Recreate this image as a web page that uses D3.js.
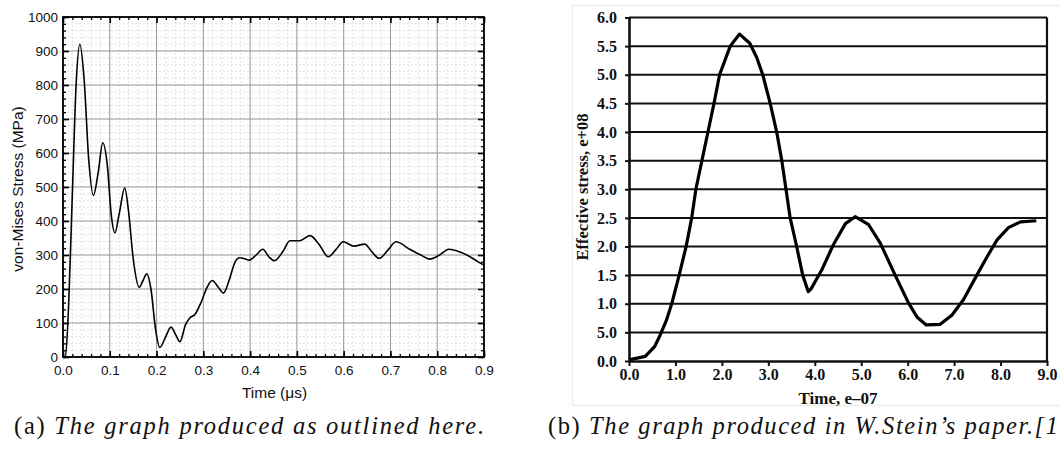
<!DOCTYPE html>
<html>
<head>
<meta charset="utf-8">
<script src="https://cdn.jsdelivr.net/npm/d3@7/dist/d3.min.js"></script>
<style>
  body { margin: 0; background: #fff; }
  svg { display: block; }
  .lt text { font-family: "Liberation Sans", Arial, sans-serif; font-size: 13.5px; fill: #111; }
  .rt text { font-family: "Liberation Serif", "Times New Roman", serif; font-weight: bold; font-size: 16px; fill: #111; }
</style>
</head>
<body>
<div id="vis"></div>
<script>
// (a) von-Mises stress vs time (us)
const stressTime = [0, 0.005, 0.012, 0.02, 0.028, 0.036, 0.045, 0.055, 0.065, 0.075, 0.085, 0.095, 0.103, 0.111, 0.12, 0.132, 0.14, 0.15, 0.163, 0.171, 0.179, 0.188, 0.198, 0.207, 0.218, 0.231, 0.241, 0.25, 0.262, 0.271, 0.282, 0.295, 0.308, 0.319, 0.332, 0.343, 0.355, 0.368, 0.378, 0.39, 0.398, 0.413, 0.427, 0.44, 0.452, 0.47, 0.485, 0.506, 0.528, 0.548, 0.567, 0.583, 0.599, 0.622, 0.645, 0.66, 0.676, 0.695, 0.712, 0.741, 0.765, 0.784, 0.805, 0.825, 0.85, 0.87, 0.885, 0.9];
const stressMPa = [0, 2, 150, 480, 800, 920, 820, 580, 475, 540, 630, 560, 420, 365, 420, 497, 430, 290, 205, 225, 245, 200, 80, 28, 55, 88, 65, 45, 95, 115, 125, 160, 205, 225, 205, 188, 225, 280, 292, 288, 285, 300, 317, 295, 283, 310, 342, 342, 357, 330, 295, 315, 339, 326, 332, 310, 290, 315, 339, 317, 300, 288, 300, 317, 308, 295, 282, 270];
const leftXTicks = [0, 0.1, 0.2, 0.3, 0.4, 0.5, 0.6, 0.7, 0.8, 0.9];
const leftYTicks = [0, 100, 200, 300, 400, 500, 600, 700, 800, 900, 1000];

// (b) effective stress (e+08) vs time (e-07), from W.Stein's paper
const steinTime = [0, 0.35, 0.55, 0.67, 0.8, 0.92, 1.08, 1.23, 1.35, 1.44, 1.57, 1.7, 1.83, 1.95, 2.18, 2.38, 2.6, 2.75, 2.88, 3.04, 3.18, 3.29, 3.38, 3.47, 3.61, 3.74, 3.86, 3.92, 4.15, 4.4, 4.66, 4.87, 5.16, 5.41, 5.73, 6.02, 6.2, 6.4, 6.7, 6.95, 7.2, 7.49, 7.71, 7.92, 8.17, 8.43, 8.77];
const steinStress = [0.02, 0.08, 0.25, 0.45, 0.7, 1.0, 1.5, 2.0, 2.5, 3.0, 3.5, 4.0, 4.5, 5.0, 5.5, 5.71, 5.55, 5.3, 5.0, 4.5, 4.0, 3.5, 3.0, 2.5, 2.0, 1.5, 1.21, 1.26, 1.59, 2.03, 2.4, 2.52, 2.38, 2.06, 1.5, 1.01, 0.77, 0.63, 0.64, 0.8, 1.07, 1.5, 1.82, 2.11, 2.33, 2.43, 2.45];
const rightXTicks = [0, 1, 2, 3, 4, 5, 6, 7, 8, 9];
const rightYTicks = [0, 0.5, 1, 1.5, 2, 2.5, 3, 3.5, 4, 4.5, 5, 5.5, 6];
const rightYLabels = ["0.0", "5.0", "1.0", "1.5", "2.0", "2.5", "3.0", "3.5", "4.0", "4.5", "5.0", "5.5", "6.0"];

const width = 1060, height = 450;
const svg = d3.select("#vis").append("svg").attr("width", width).attr("height", height);
svg.append("rect").attr("width", width).attr("height", height).attr("fill", "#fff");

// ---------- left chart ----------
const L = { left: 63, right: 484, top: 17, bottom: 357 };
const lx = d3.scaleLinear().domain([0, 0.9]).range([L.left, L.right]);
const ly = d3.scaleLinear().domain([0, 1000]).range([L.bottom, L.top]);
const lg = svg.append("g").attr("class", "lt");

const minorX = d3.range(0, 0.9001, 0.02).map(d => +d.toFixed(2));
const minorY = d3.range(0, 1001, 20);

// dotted minor grid
lg.append("g").selectAll("line").data(minorX).join("line")
  .attr("x1", d => lx(d)).attr("x2", d => lx(d)).attr("y1", L.top).attr("y2", L.bottom)
  .attr("stroke", "#e0e0e0").attr("stroke-dasharray", "2,2");
lg.append("g").selectAll("line").data(minorY).join("line")
  .attr("y1", d => ly(d)).attr("y2", d => ly(d)).attr("x1", L.left).attr("x2", L.right)
  .attr("stroke", "#e0e0e0").attr("stroke-dasharray", "2,2");
// major grid
lg.append("g").selectAll("line").data(leftXTicks).join("line")
  .attr("x1", d => lx(d)).attr("x2", d => lx(d)).attr("y1", L.top).attr("y2", L.bottom)
  .attr("stroke", "#9a9a9a");
lg.append("g").selectAll("line").data(leftYTicks).join("line")
  .attr("y1", d => ly(d)).attr("y2", d => ly(d)).attr("x1", L.left).attr("x2", L.right)
  .attr("stroke", "#9a9a9a");

// curve
const lline = d3.line().x((d, i) => lx(stressTime[i])).y(d => ly(d)).curve(d3.curveMonotoneX);
lg.append("path").datum(stressMPa).attr("d", lline)
  .attr("fill", "none").attr("stroke", "#000").attr("stroke-width", 1.6);

// axes with inward ticks
function styleAxis(g, w) {
  g.select(".domain").remove();
  g.selectAll(".tick line").attr("stroke", "#000").attr("stroke-width", w);
}
lg.append("g").attr("transform", `translate(0,${L.bottom})`)
  .call(d3.axisBottom(lx).tickValues(minorX).tickSize(-3).tickFormat(""))
  .call(g => styleAxis(g, 1.3));
lg.append("g").attr("transform", `translate(0,${L.bottom})`)
  .call(d3.axisBottom(lx).tickValues(leftXTicks).tickSize(-6).tickPadding(8).tickFormat(d3.format(".1f")))
  .call(g => styleAxis(g, 1.6));
lg.append("g").attr("transform", `translate(0,${L.top})`)
  .call(d3.axisTop(lx).tickValues(minorX).tickSize(-3).tickFormat(""))
  .call(g => styleAxis(g, 1.3));
lg.append("g").attr("transform", `translate(0,${L.top})`)
  .call(d3.axisTop(lx).tickValues(leftXTicks).tickSize(-6).tickFormat(""))
  .call(g => styleAxis(g, 1.6));
lg.append("g").attr("transform", `translate(${L.left},0)`)
  .call(d3.axisLeft(ly).tickValues(minorY).tickSize(-3).tickFormat(""))
  .call(g => styleAxis(g, 1.3));
lg.append("g").attr("transform", `translate(${L.left},0)`)
  .call(d3.axisLeft(ly).tickValues(leftYTicks).tickSize(-6).tickPadding(5).tickFormat(d3.format("d")))
  .call(g => styleAxis(g, 1.6));
lg.append("g").attr("transform", `translate(${L.right},0)`)
  .call(d3.axisRight(ly).tickValues(minorY).tickSize(-3).tickFormat(""))
  .call(g => styleAxis(g, 1.3));
lg.append("g").attr("transform", `translate(${L.right},0)`)
  .call(d3.axisRight(ly).tickValues(leftYTicks).tickSize(-6).tickFormat(""))
  .call(g => styleAxis(g, 1.6));
lg.selectAll(".tick text").style("font-family", "Liberation Sans, Arial, sans-serif").style("font-size", "13.5px").attr("fill", "#111");

lg.append("rect").attr("x", L.left).attr("y", L.top)
  .attr("width", L.right - L.left).attr("height", L.bottom - L.top)
  .attr("fill", "none").attr("stroke", "#000").attr("stroke-width", 1.8);

lg.append("text").attr("x", (L.left + L.right) / 2 + 1).attr("y", 398)
  .attr("text-anchor", "middle").style("font-size", "15.5px").text("Time (\u03bcs)");
lg.append("text").attr("transform", "translate(23,189) rotate(-90)")
  .attr("text-anchor", "middle").style("font-size", "15.5px").text("von-Mises Stress (MPa)");

// ---------- right chart (scanned figure) ----------
const R = { left: 629, right: 1047, top: 17.5, bottom: 361 };
const rx = d3.scaleLinear().domain([0, 9]).range([R.left, R.right]);
const ry = d3.scaleLinear().domain([0, 6]).range([R.bottom, R.top]);
const rg = svg.append("g").attr("class", "rt");

// faint scan border
rg.append("path").attr("d", "M1060,5.5H572.5V405.5H1060")
  .attr("fill", "none").attr("stroke", "#eeeeee").attr("stroke-width", 1.5);

rg.append("g").selectAll("line").data(rightYTicks.filter(d => d > 0)).join("line")
  .attr("x1", R.left).attr("x2", R.right).attr("y1", d => ry(d)).attr("y2", d => ry(d))
  .attr("stroke", "#111").attr("stroke-width", 2);
rg.append("line").attr("x1", R.right).attr("x2", R.right).attr("y1", R.top).attr("y2", R.bottom)
  .attr("stroke", "#111").attr("stroke-width", 2.2);

rg.append("g").attr("transform", `translate(${R.left},0)`)
  .call(d3.axisLeft(ry).tickValues(rightYTicks).tickSize(4).tickSizeOuter(0).tickPadding(8)
    .tickFormat((d, i) => rightYLabels[i]))
  .call(g => g.select(".domain").attr("stroke", "#111").attr("stroke-width", 2.6))
  .call(g => g.selectAll(".tick line").attr("stroke", "#111").attr("stroke-width", 2));
rg.append("g").attr("transform", `translate(0,${R.bottom})`)
  .call(d3.axisBottom(rx).tickValues(rightXTicks).tickSize(5).tickSizeOuter(0).tickPadding(3)
    .tickFormat(d3.format(".1f")))
  .call(g => g.select(".domain").attr("stroke", "#111").attr("stroke-width", 2.6))
  .call(g => g.selectAll(".tick line").attr("stroke", "#111").attr("stroke-width", 2));
rg.selectAll(".tick text").style("font-family", "Liberation Serif, Times New Roman, serif")
  .style("font-weight", "bold").style("font-size", "16px").attr("fill", "#111");

const rline = d3.line().x((d, i) => rx(steinTime[i])).y(d => ry(d)).curve(d3.curveLinear);
rg.append("path").datum(steinStress).attr("d", rline)
  .attr("fill", "none").attr("stroke", "#000").attr("stroke-width", 3.2).attr("stroke-linejoin", "round");

rg.append("text").attr("x", 838).attr("y", 404).attr("text-anchor", "middle")
  .style("font-size", "17px").text("Time, e\u201307");
rg.append("text").attr("transform", "translate(588,187) rotate(-90)").attr("text-anchor", "middle")
  .style("font-size", "16.5px").text("Effective stress, e+08");

// ---------- captions ----------
const cap = svg.append("g").style("font-family", "Liberation Serif, Times New Roman, serif")
  .style("font-size", "24.5px").attr("fill", "#111");
const ca = cap.append("text").attr("x", 14).attr("y", 434).attr("textLength", 470).attr("lengthAdjust", "spacing");
ca.append("tspan").text("(a) ");
ca.append("tspan").style("font-style", "italic").text("The graph produced as outlined here.");
const cb = cap.append("text").attr("x", 548).attr("y", 434).attr("textLength", 510).attr("lengthAdjust", "spacing");
cb.append("tspan").text("(b) ");
cb.append("tspan").style("font-style", "italic").text("The graph produced in W.Stein\u2019s paper.[1");
</script>
</body>
</html>
